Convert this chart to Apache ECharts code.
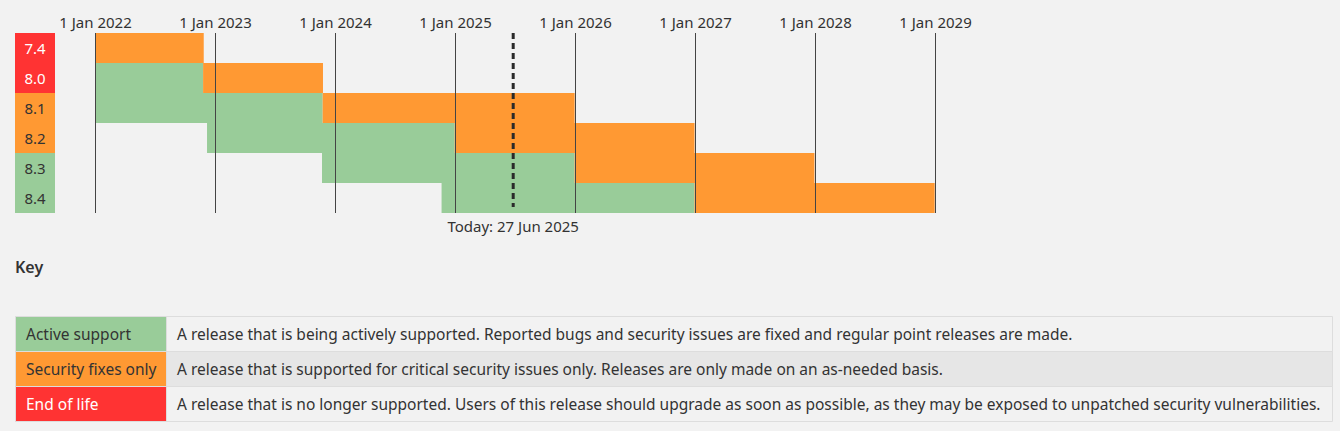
<!DOCTYPE html>
<html>
<head>
<meta charset="utf-8">
<title>Supported Versions</title>
<script src="https://cdn.jsdelivr.net/npm/echarts@6/dist/echarts.min.js"></script>
<style>
  html, body { margin: 0; padding: 0; background: #f2f2f2; }
  #chart { width: 1340px; height: 431px; }
</style>
</head>
<body>
<div id="chart"></div>
<script>
// 数据
const versions = ["7.4", "8.0", "8.1", "8.2", "8.3", "8.4"];
const releaseDates = ["2019-11-28", "2020-11-26", "2021-11-25", "2022-12-08", "2023-11-23", "2024-11-21"];
const activeEnds = ["2021-11-28", "2022-11-26", "2023-11-25", "2024-12-31", "2025-12-31", "2026-12-31"];
const securityEnds = ["2022-11-28", "2023-11-26", "2025-12-31", "2026-12-31", "2027-12-31", "2028-12-31"];
const versionStatus = ["eol", "eol", "security", "security", "stable", "stable"];

const yearTicks = ["2022-01-01", "2023-01-01", "2024-01-01", "2025-01-01", "2026-01-01", "2027-01-01", "2028-01-01", "2029-01-01"];
const yearLabels = ["1 Jan 2022", "1 Jan 2023", "1 Jan 2024", "1 Jan 2025", "1 Jan 2026", "1 Jan 2027", "1 Jan 2028", "1 Jan 2029"];
const today = "2025-06-27";
const todayLabel = "Today: 27 Jun 2025";

const keyStatus = ["stable", "security", "eol"];
const keyNames = ["Active support", "Security fixes only", "End of life"];
const keyTexts = [
  "A release that is being actively supported. Reported bugs and security issues are fixed and regular point releases are made.",
  "A release that is supported for critical security issues only. Releases are only made on an as-needed basis.",
  "A release that is no longer supported. Users of this release should upgrade as soon as possible, as they may be exposed to unpatched security vulnerabilities."
];

const 字体 = "'Noto Sans', sans-serif";
const 颜色 = { stable: "#99cc99", security: "#ff9933", eol: "#ff3333" };
const 文字色 = { stable: "#333333", security: "#333333", eol: "#ffffff" };

const t = (s) => new Date(s + "T00:00:00Z").getTime();

const 条数据 = versions.map((v, i) => [i, t(releaseDates[i]), t(activeEnds[i]), t(securityEnds[i])]);
const 年数据 = yearTicks.map((d, i) => [t(d), yearLabels[i]]);

const 标签样式 = {};
Object.keys(颜色).forEach((k) => {
  标签样式[k] = {
    backgroundColor: 颜色[k],
    color: 文字色[k],
    width: 40,
    height: 30,
    lineHeight: 30,
    align: "center",
    fontSize: 15,
    fontFamily: 字体
  };
});

// ---- 图例表格 ----
const 表格 = [];
表格.push({
  type: "text", left: 15, top: 259,
  style: { text: "Key", fontSize: 16, fontWeight: 600, fill: "#333", fontFamily: 字体 }
});
const 表顶 = 316, 行高 = 35, 左 = 15, 列宽 = 151, 右 = 1332;
keyNames.forEach((name, i) => {
  const y = 表顶 + i * 行高;
  表格.push({
    type: "rect",
    shape: { x: 左 + 0.5, y: y + 0.5, width: 列宽, height: 行高 },
    style: { fill: 颜色[keyStatus[i]], stroke: "#dddddd", lineWidth: 1 }
  });
  表格.push({
    type: "rect",
    shape: { x: 左 + 列宽 + 0.5, y: y + 0.5, width: 右 - 左 - 列宽, height: 行高 },
    style: { fill: i === 1 ? "#e6e6e6" : "#f2f2f2", stroke: "#dddddd", lineWidth: 1 }
  });
  表格.push({
    type: "text", x: 左 + 11, y: y + 行高 / 2,
    style: { text: name, fontSize: 15.5, fill: 文字色[keyStatus[i]], fontFamily: 字体, verticalAlign: "middle" }
  });
  表格.push({
    type: "text", x: 左 + 列宽 + 11, y: y + 行高 / 2,
    style: { text: keyTexts[i], fontSize: 15.5, fill: "#333", fontFamily: 字体, verticalAlign: "middle" }
  });
});

const myChart = echarts.init(document.getElementById("chart"), null, { renderer: "svg" });

const option = {
  backgroundColor: "#f2f2f2",
  animation: false,
  grid: { left: 95, top: 33, width: 840, height: 180 },
  xAxis: {
    type: "time",
    min: t(yearTicks[0]),
    max: t(yearTicks[yearTicks.length - 1]),
    show: false
  },
  yAxis: {
    type: "category",
    data: versions,
    inverse: true,
    axisLine: { show: false },
    axisTick: { show: false },
    splitLine: { show: false },
    axisLabel: {
      margin: 40,
      formatter: (v, i) => `{${versionStatus[i]}|${v}}`,
      rich: 标签样式
    }
  },
  series: [
    {
      name: "bars",
      type: "custom",
      data: 条数据,
      encode: { x: [1, 2, 3], y: 0 },
      renderItem: (params, api) => {
        const 行 = api.value(0);
        const 高 = api.size([0, 1])[1];
        const cs = params.coordSys;
        const 区段 = [
          [api.value(1), api.value(2), 颜色.stable],
          [api.value(2), api.value(3), 颜色.security]
        ];
        const children = [];
        区段.forEach(([a, b, c]) => {
          const p0 = api.coord([a, 行]);
          const p1 = api.coord([b, 行]);
          const rect = echarts.graphic.clipRectByRect(
            { x: p0[0], y: p0[1] - 高 / 2, width: p1[0] - p0[0], height: 高 },
            { x: cs.x, y: cs.y, width: cs.width, height: cs.height }
          );
          if (rect) {
            children.push({ type: "rect", shape: rect, style: { fill: c } });
          }
        });
        return { type: "group", children };
      },
      z: 2
    },
    {
      name: "years",
      type: "custom",
      data: 年数据,
      encode: { x: 0 },
      renderItem: (params, api) => {
        const cs = params.coordSys;
        const x = Math.round(api.coord([api.value(0), 0])[0]) + 0.5;
        return {
          type: "group",
          children: [
            { type: "line", shape: { x1: x, y1: cs.y, x2: x, y2: cs.y + cs.height }, style: { stroke: "#444", lineWidth: 1 } },
            { type: "text", x: x, y: cs.y - 11,
              style: { text: yearLabels[params.dataIndex], fill: "#333", fontSize: 15, fontFamily: 字体, align: "center", verticalAlign: "middle" } }
          ]
        };
      },
      z: 3
    },
    {
      name: "today",
      type: "custom",
      data: [[t(today)]],
      encode: { x: 0 },
      renderItem: (params, api) => {
        const cs = params.coordSys;
        const x = api.coord([api.value(0), 0])[0];
        return {
          type: "group",
          children: [
            { type: "line", shape: { x1: x, y1: cs.y, x2: x, y2: cs.y + cs.height - 6 },
              style: { stroke: "#2a2a2a", lineWidth: 3, lineDash: [6, 4] } },
            { type: "text", x: x, y: cs.y + cs.height + 13,
              style: { text: todayLabel, fill: "#333", fontSize: 15, fontFamily: 字体, align: "center", verticalAlign: "middle" } }
          ]
        };
      },
      z: 4
    }
  ],
  graphic: 表格
};

myChart.setOption(option);
</script>
</body>
</html>
